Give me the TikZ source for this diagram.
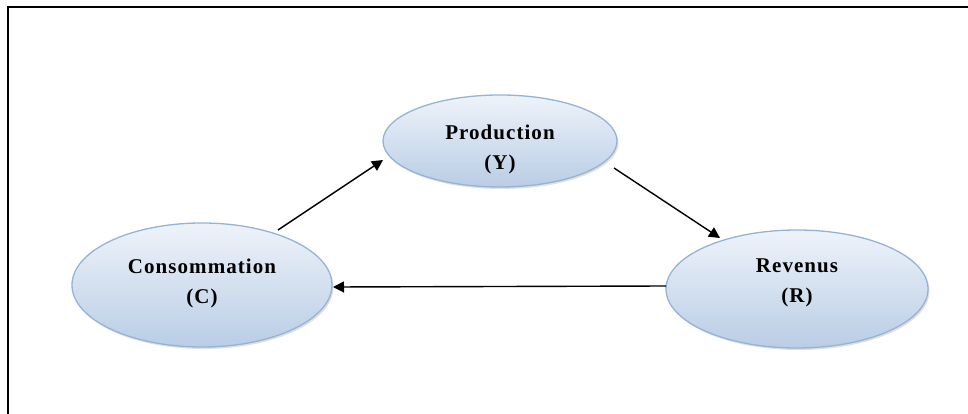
\documentclass[tikz,border=0pt]{standalone}
\usepackage{fontspec}
\newfontfamily\tfont[LetterSpace=5]{Liberation Serif}
\usetikzlibrary{shapes.geometric,arrows.meta,shadows}
\definecolor{ellborder}{HTML}{95B3D7}
\definecolor{elltop}{HTML}{EEF3FA}
\definecolor{ellbot}{HTML}{B9CDE5}
\tikzset{
  ell/.style={ellipse, draw=ellborder, line width=1.3pt, top color=elltop, bottom color=ellbot,
    drop shadow={shadow xshift=1.5pt, shadow yshift=-2pt, opacity=0.25, fill=gray},
    inner sep=0pt},
  lbl/.style={font=\tfont\fontsize{21}{30}\bfseries\selectfont, align=center, text=black},
  arr/.style={-{Triangle[length=11pt,width=11pt]}, line width=1.4pt, black}
}
\begin{document}
\begin{tikzpicture}[x=1pt,y=-1pt]
\useasboundingbox (0,0) rectangle (968,414);
\fill[white] (0,0) rectangle (968,414);
\draw[line width=1.8pt] (8,420) -- (8,7) -- (975,7);
\node[ell, minimum width=234pt, minimum height=92pt] (Y) at (500,141) {};
\node[ell, minimum width=260pt, minimum height=124pt] (C) at (202,285) {};
\node[ell, minimum width=262pt, minimum height=118pt] (R) at (797,289) {};
\node[lbl] (Yt) at (500,149) {Production\\(Y)};
\node[lbl] (Ct) at (202,283) {Consommation\\(C)};
\node[lbl] (Rt) at (797,283) {Revenus\\(R)};
\coordinate (a1) at (278,230);
\coordinate (a2) at (383,160);
\coordinate (b1) at (614,168);
\coordinate (b2) at (720,238);
\coordinate (c1) at (666,286);
\coordinate (c2) at (333,287);
\draw[arr] (a1) -- (a2);
\draw[arr] (b1) -- (b2);
\draw[arr] (c1) -- (c2);
\end{tikzpicture}
\end{document}
